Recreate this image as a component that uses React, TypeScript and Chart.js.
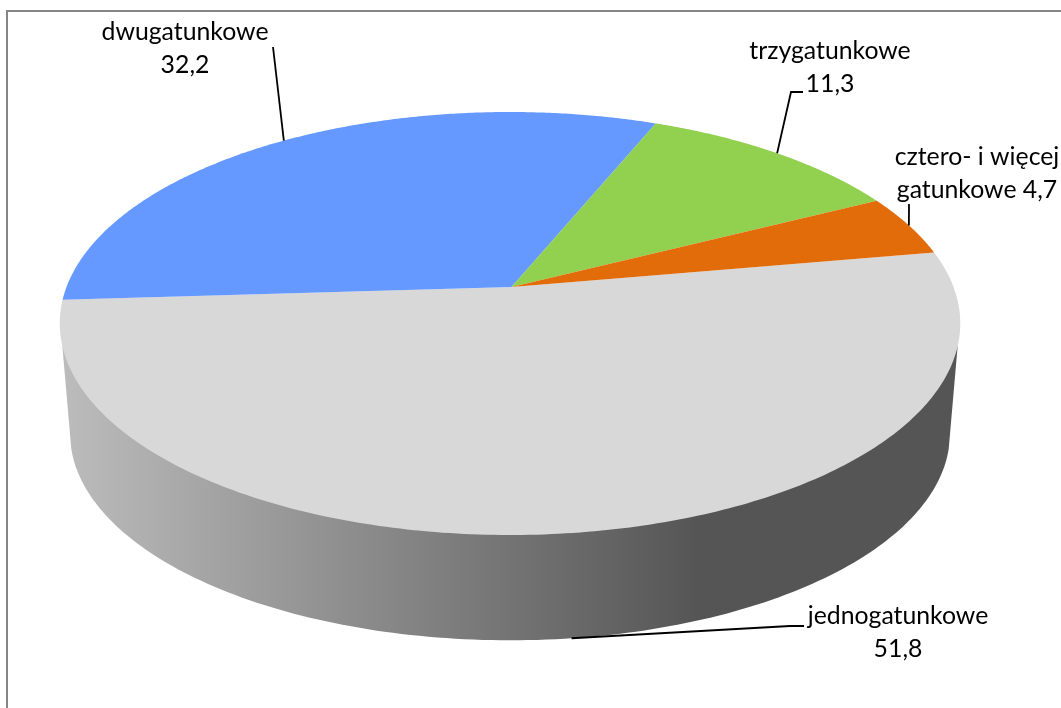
import React, { useEffect, useRef } from "react";
import { Chart, registerables } from "chart.js";

Chart.register(...registerables);

const categories = ["jednogatunkowe", "dwugatunkowe", "trzygatunkowe", "cztero- i więcej gatunkowe"];
const values = [51.8, 32.2, 11.3, 4.7];
const colors = ["#D8D8D8", "#6699FF", "#92D050", "#E36C0A"];
const labelLines = [
  ["jednogatunkowe", "51,8"],
  ["dwugatunkowe", "32,2"],
  ["trzygatunkowe", "11,3"],
  ["cztero- i więcej", "gatunkowe 4,7"],
];

// layout of the perspective disc
const RIM_X = 510;
const APEX_X = 511.5;
const APEX_Y = 287;
const RX = 443.5;
const RY = 205.2;
const K = 0.1726;
const BASE_Y = 398;
const BASE_SCALE = 0.977;
const FONT = '24.8px Lato, "Open Sans", sans-serif';
const LINE_H = 33;

function top(t: number) {
  const u = Math.cos(t), v = Math.sin(t), d = 1 - K * v;
  return { x: RIM_X + (RX * u) / d, y: APEX_Y + (RY * v) / d };
}
function base(t: number) {
  const u = Math.cos(t), v = Math.sin(t), d = 1 - K * v;
  return { x: RIM_X + (BASE_SCALE * RX * u) / d, y: BASE_Y + (BASE_SCALE * RY * v) / d };
}
const rad = (d: number) => (d * Math.PI) / 180;

function drawWall(ctx: CanvasRenderingContext2D) {
  const g = ctx.createLinearGradient(62, 0, 700, 0);
  g.addColorStop(0, "rgb(188,188,188)");
  g.addColorStop(1, "rgb(85,85,85)");
  ctx.fillStyle = g;
  ctx.beginPath();
  const a = top(rad(16));
  ctx.moveTo(a.x, a.y);
  for (let d = 14; d <= 166; d += 1) {
    const p = base(rad(d));
    ctx.lineTo(p.x, p.y);
  }
  const b = top(rad(164));
  ctx.lineTo(b.x, b.y);
  ctx.closePath();
  ctx.fill();
}

const perspectivePie = {
  id: "perspectivePie",
  beforeDraw(chart: any) {
    const ctx = chart.ctx as CanvasRenderingContext2D;
    ctx.save();
    ctx.fillStyle = "#fff";
    ctx.fillRect(0, 0, chart.width, chart.height);
    ctx.strokeStyle = "#868686";
    ctx.lineWidth = 2;
    ctx.strokeRect(7, 11, chart.width + 50, chart.height + 50);
    ctx.restore();
  },
  beforeDatasetDraw(chart: any) {
    const ctx = chart.ctx as CanvasRenderingContext2D;
    const arcs = chart.getDatasetMeta(0).data;
    ctx.save();
    drawWall(ctx);
    arcs.forEach((arc: any) => {
      ctx.fillStyle = arc.options.backgroundColor;
      ctx.beginPath();
      ctx.moveTo(APEX_X, APEX_Y);
      const n = 240;
      for (let i = 0; i <= n; i++) {
        const p = top(arc.startAngle + ((arc.endAngle - arc.startAngle) * i) / n);
        ctx.lineTo(p.x, p.y);
      }
      ctx.closePath();
      ctx.fill();
    });
    ctx.restore();
    return false;
  },
  afterDraw(chart: any) {
    const ctx = chart.ctx as CanvasRenderingContext2D;
    const arcs = chart.getDatasetMeta(0).data;
    const mids = arcs.map((a: any) => (a.startAngle + a.endAngle) / 2);
    const anchors = [base(mids[0]), top(mids[1]), top(mids[2]), top(mids[3])];
    // label centres and first baselines, then leader bends, in the order of the categories
    const boxes = [
      { cx: 898, y: 624, path: [[790, 626], [804, 626]] },
      { cx: 185, y: 40, path: [[273, 47]] },
      { cx: 830, y: 59, path: [[791, 92], [803, 92]] },
      { cx: 977, y: 165, path: [[909, 204]] },
    ];
    ctx.save();
    ctx.strokeStyle = "#000";
    ctx.lineWidth = 1.8;
    boxes.forEach((b, i) => {
      ctx.beginPath();
      ctx.moveTo(anchors[i].x, anchors[i].y);
      b.path.forEach(([x, y]) => ctx.lineTo(x, y));
      ctx.stroke();
    });
    ctx.fillStyle = "#000";
    ctx.font = FONT;
    ctx.textAlign = "center";
    ctx.textBaseline = "alphabetic";
    boxes.forEach((b, i) => {
      labelLines[i].forEach((t, j) => ctx.fillText(t, b.cx, b.y + j * LINE_H));
    });
    ctx.restore();
  },
};

export default function App() {
  const ref = useRef<HTMLCanvasElement>(null);
  useEffect(() => {
    const chart = new Chart(ref.current!, {
      type: "pie",
      data: {
        labels: categories,
        datasets: [{ data: values, backgroundColor: colors, borderWidth: 0 }],
      },
      options: {
        responsive: false,
        animation: false,
        rotation: 80,
        plugins: { legend: { display: false }, tooltip: { enabled: false } },
      },
      plugins: [perspectivePie],
    });
    return () => chart.destroy();
  }, []);
  return (
    <canvas
      ref={ref}
      width={1061}
      height={708}
      style={{ position: "absolute", left: 0, top: 0, display: "block" }}
    />
  );
}
